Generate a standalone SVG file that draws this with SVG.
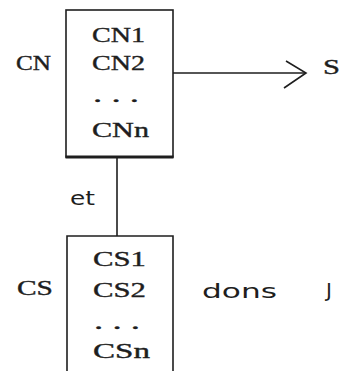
<svg xmlns="http://www.w3.org/2000/svg" width="343" height="371" viewBox="0 0 343 371">
  <style>
    .frame { fill: none; stroke: #1e1e1e; stroke-width: 1.6; }
    .base { stroke: #1e1e1e; stroke-width: 3; }
    .wire { fill: none; stroke: #1e1e1e; stroke-width: 1.6; }
    .mono { font-family: "Liberation Serif", "Times New Roman", serif; font-size: 22px; fill: #1e1e1e; stroke: #1e1e1e; stroke-width: 0.4; }
    .hand { font-family: "DejaVu Sans", "Liberation Sans", sans-serif; font-size: 20px; fill: #1e1e1e; }
  </style>
  <rect width="343" height="371" fill="#ffffff"/>

  <!-- upper set: CN -->
  <g id="node-cn">
    <rect class="frame" x="66" y="10" width="107" height="147"/>
    <line class="base" x1="65.5" y1="157" x2="173.5" y2="157"/>
    <text class="mono" x="92" y="42" textLength="53" lengthAdjust="spacingAndGlyphs">CN1</text>
    <text class="mono" x="92" y="70" textLength="53" lengthAdjust="spacingAndGlyphs">CN2</text>
    <text class="mono" x="93" y="102" textLength="46" lengthAdjust="spacingAndGlyphs">. . .</text>
    <text class="mono" x="92" y="137" textLength="57" lengthAdjust="spacingAndGlyphs">CNn</text>
  </g>
  <text id="label-cn" class="mono" x="16" y="70" textLength="35" lengthAdjust="spacingAndGlyphs">CN</text>

  <!-- lower set: CS (continues past the bottom edge) -->
  <g id="node-cs">
    <path class="frame" d="M67 371 V236 H173 V371"/>
    <text class="mono" x="93" y="266" textLength="53" lengthAdjust="spacingAndGlyphs">CS1</text>
    <text class="mono" x="93" y="297" textLength="53" lengthAdjust="spacingAndGlyphs">CS2</text>
    <text class="mono" x="94" y="329" textLength="46" lengthAdjust="spacingAndGlyphs">. . .</text>
    <text class="mono" x="93" y="358" textLength="57" lengthAdjust="spacingAndGlyphs">CSn</text>
  </g>
  <text id="label-cs" class="mono" x="17" y="295" textLength="36" lengthAdjust="spacingAndGlyphs">CS</text>

  <!-- target S and scope J -->
  <text id="node-s" class="mono" x="323" y="74" textLength="17" lengthAdjust="spacingAndGlyphs">S</text>
  <text id="label-dons" class="hand" x="202" y="298" textLength="75" lengthAdjust="spacingAndGlyphs">dons</text>
  <text id="label-j" class="hand" x="326" y="297">J</text>

  <g id="connectors">
    <line class="wire" x1="173" y1="73" x2="306" y2="73"/>
    <polyline class="wire" points="286,61 306,73 284,88"/>
    <line class="wire" x1="117" y1="158" x2="117" y2="236"/>
    <text class="hand" x="70" y="205" font-size="22" textLength="25" lengthAdjust="spacingAndGlyphs">et</text>
  </g>
</svg>
